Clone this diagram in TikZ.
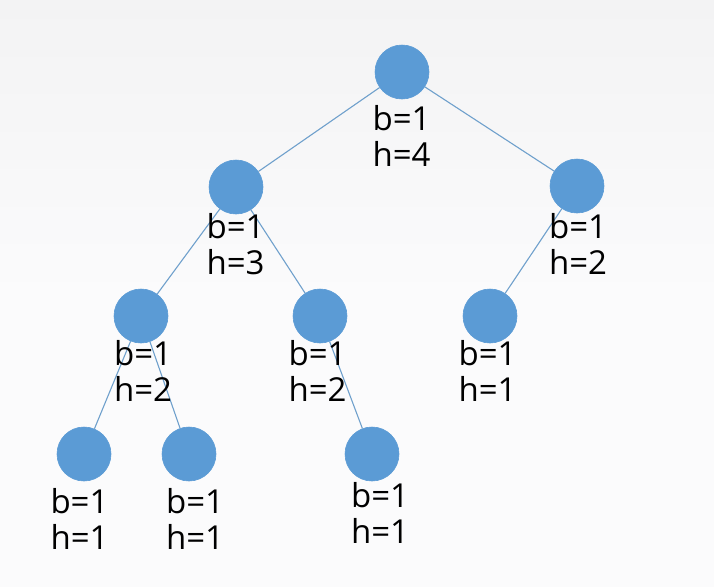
\documentclass[tikz,border=0pt]{standalone}
\usepackage{fontspec}
\setmainfont{Open Sans}
\definecolor{nodeblue}{HTML}{5B9BD5}
\definecolor{edgeblue}{HTML}{6FA0CC}
\definecolor{bgtop}{HTML}{F3F3F4}
\definecolor{bgbot}{HTML}{FBFBFC}
\begin{document}
\begin{tikzpicture}[x=1pt,y=-1pt,
  tnode/.style={circle,fill=nodeblue,draw=nodeblue,line width=0.6pt,minimum size=54pt,inner sep=0pt},
  tlabel/.style={anchor=north,align=center,inner sep=0pt,font=\fontsize{33}{36}\selectfont,text=black},
  tedge/.style={draw=edgeblue,line width=1.1pt}]
\fill[bgbot] (0,0) rectangle (714,587);
\shade[top color=bgtop,bottom color=bgbot] (0,0) rectangle (714,300);
\path[use as bounding box] (0,0) rectangle (714,587);
% nodes
\node[tnode] (r) at (402,72) {};
\node[tnode] (a) at (236,187) {};
\node[tnode] (b) at (577,186) {};
\node[tnode] (c) at (141,316) {};
\node[tnode] (d) at (320,316) {};
\node[tnode] (e) at (490,316) {};
\node[tnode] (f) at (84,454) {};
\node[tnode] (g) at (189,454) {};
\node[tnode] (h) at (372,454) {};
% edges
\draw[tedge] (r) -- (a);
\draw[tedge] (r) -- (b);
\draw[tedge] (a) -- (c);
\draw[tedge] (a) -- (d);
\draw[tedge] (b) -- (e);
\draw[tedge] (c) -- (f);
\draw[tedge] (c) -- (g);
\draw[tedge] (d) -- (h);
% labels
\node[tlabel] (lr) at (401.5,105) {b=1\\h=4};
\node[tlabel] (la) at (235.5,213) {b=1\\h=3};
\node[tlabel] (lb) at (578,213) {b=1\\h=2};
\node[tlabel] (lc) at (143,340) {b=1\\h=2};
\node[tlabel] (ld) at (317.5,340) {b=1\\h=2};
\node[tlabel] (le) at (487.5,340) {b=1\\h=1};
\node[tlabel] (lf) at (79.5,488) {b=1\\h=1};
\node[tlabel] (lg) at (195,488) {b=1\\h=1};
\node[tlabel] (lh) at (380,482) {b=1\\h=1};
\end{tikzpicture}
\end{document}
